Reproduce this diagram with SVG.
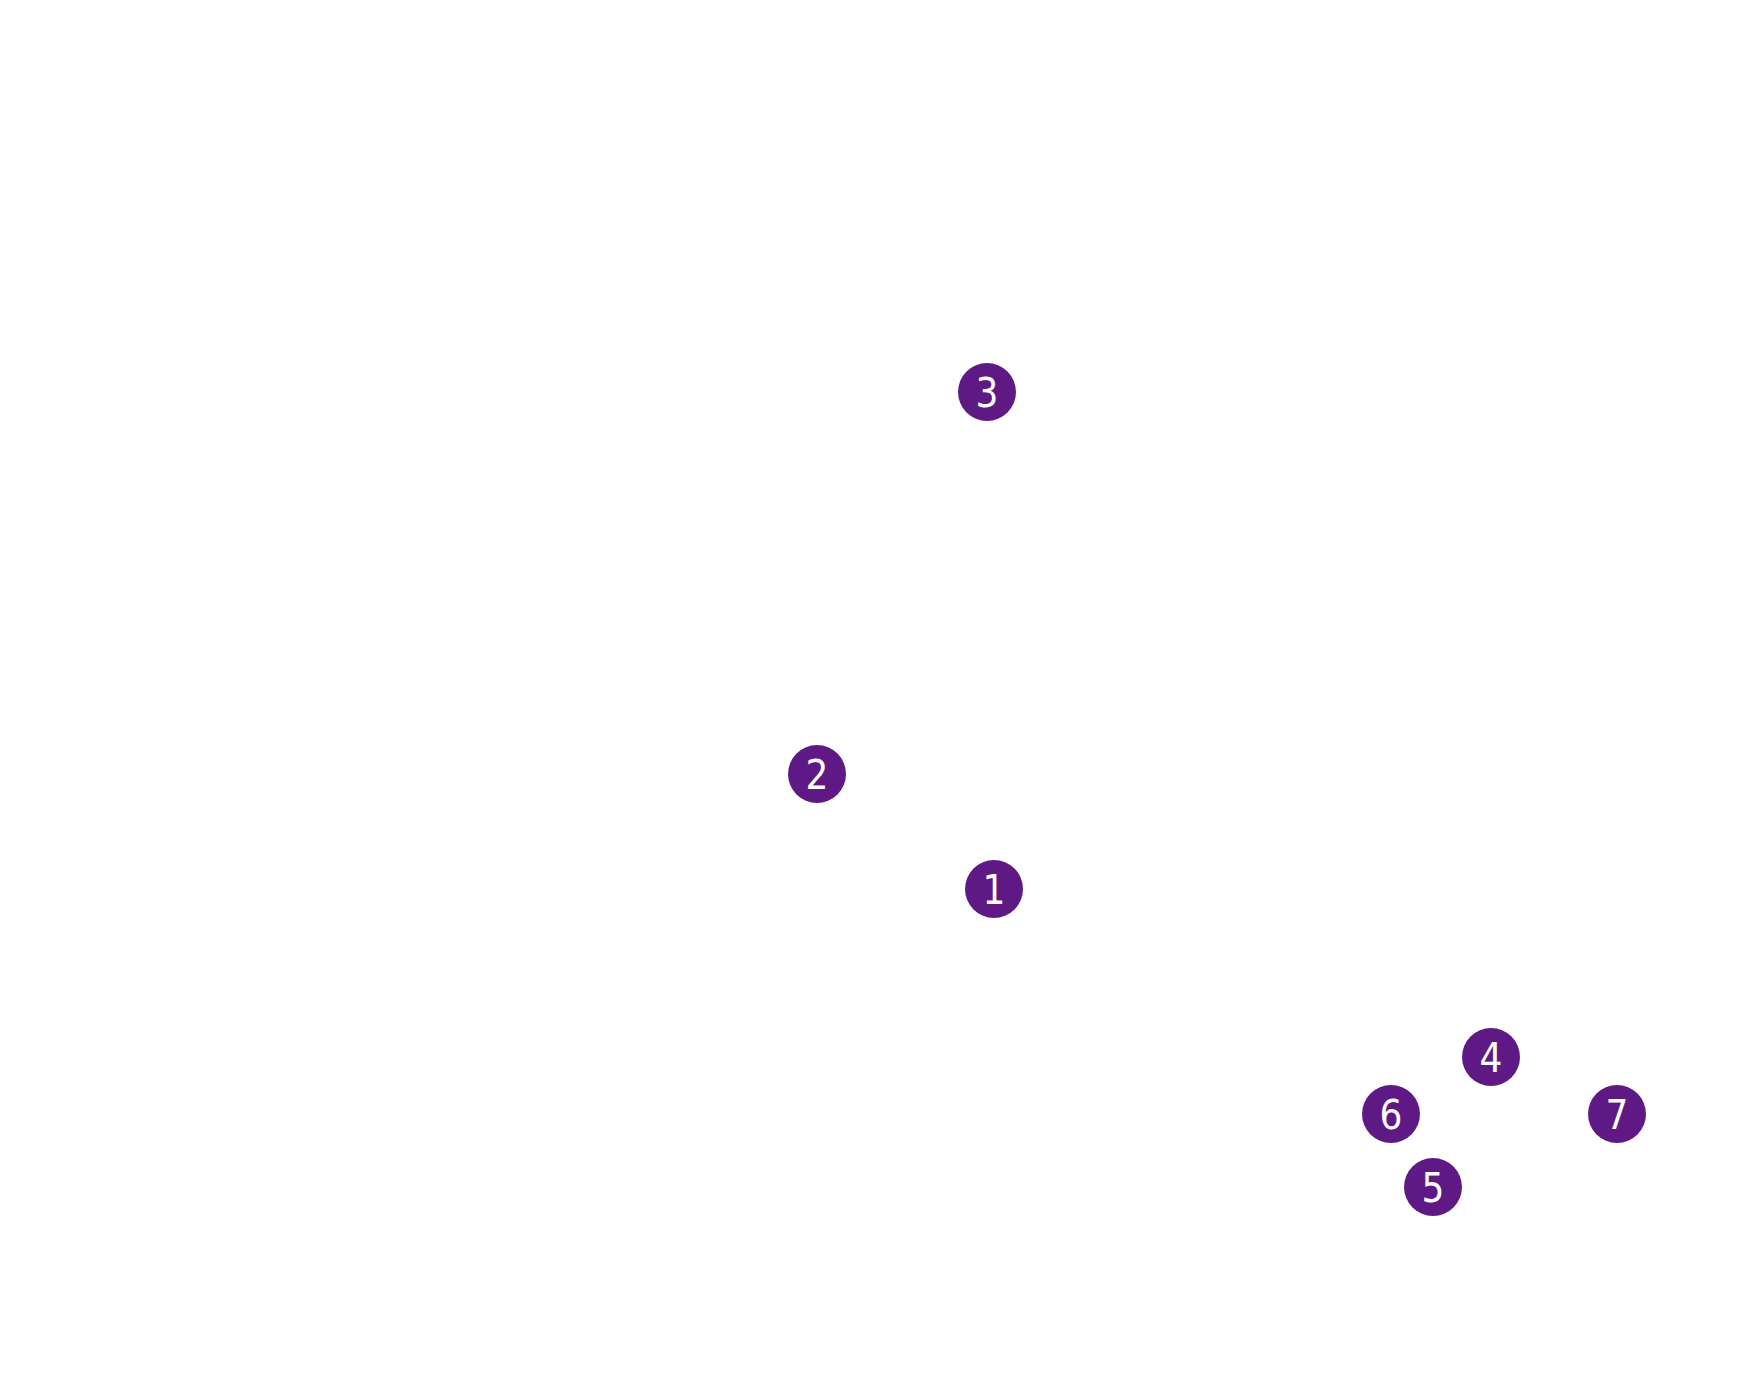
<svg xmlns="http://www.w3.org/2000/svg" width="1742" height="1388" viewBox="0 0 1742 1388">
<style>
.m{fill:#5f1985}
.t{fill:#fff;font-family:"DejaVu Sans Condensed","Roboto",sans-serif;font-size:40px;text-anchor:middle;dominant-baseline:central}
</style>
<rect width="1742" height="1388" fill="#fff"/>
<g id="connectors"></g>
<g id="n3"><circle class="m" cx="987" cy="392" r="29"/><text class="t" x="987" y="393">3</text></g>
<g id="n2"><circle class="m" cx="817" cy="774" r="29"/><text class="t" x="817" y="775">2</text></g>
<g id="n1"><circle class="m" cx="994" cy="889" r="29"/><text class="t" x="994" y="890">1</text></g>
<g id="n4"><circle class="m" cx="1491" cy="1057" r="29"/><text class="t" x="1491" y="1058">4</text></g>
<g id="n6"><circle class="m" cx="1391" cy="1114" r="29"/><text class="t" x="1391" y="1115">6</text></g>
<g id="n7"><circle class="m" cx="1617" cy="1114" r="29"/><text class="t" x="1617" y="1115">7</text></g>
<g id="n5"><circle class="m" cx="1433" cy="1187" r="29"/><text class="t" x="1433" y="1188">5</text></g>
</svg>
